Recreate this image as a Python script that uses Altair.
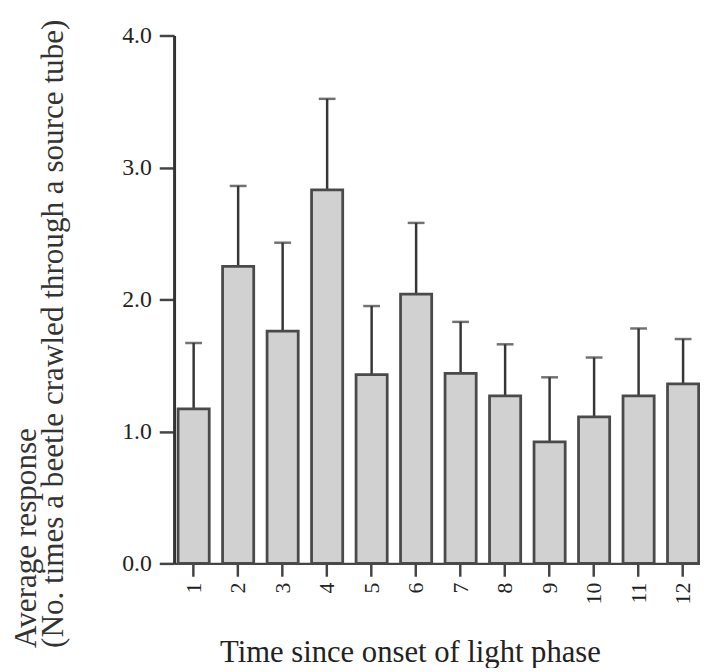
import altair as alt
import pandas as pd

hours = [str(i) for i in range(1, 13)]
means = [1.17, 2.25, 1.76, 2.83, 1.43, 2.04, 1.44, 1.27, 0.92, 1.11, 1.27, 1.36]
uppers = [1.67, 2.86, 2.43, 3.52, 1.95, 2.58, 1.83, 1.66, 1.41, 1.56, 1.78, 1.70]
y_ticks = [0, 1, 2, 3, 4]

df = pd.DataFrame({"hour": hours, "mean": means, "upper": uppers})

FONT = "Liberation Serif"
y_title = ["Average response", "(No. times a beetle crawled through a source tube)"]

x_enc = alt.X(
    "hour:N",
    sort=hours,
    scale=alt.Scale(paddingInner=0.3, paddingOuter=0.06, align=0.75),
    axis=alt.Axis(
        labelAngle=270,
        labelFont=FONT,
        labelFontSize=22,
        labelColor="#222222",
        labelPadding=6,
        tickSize=13,
        tickWidth=2.5,
        tickColor="#444444",
        domainColor="#444444",
        domainWidth=2.5,
        titleFont=FONT,
        titleFontSize=31,
        titleFontWeight="normal",
        titleColor="#222222",
        titleAlign="left",
        titleBaseline="alphabetic",
        titleX=46,
        titleY=99,
    ),
    title="Time since onset of light phase",
)

y_axis = alt.Axis(
    values=y_ticks,
    format=".1f",
    grid=False,
    labelFont=FONT,
    labelFontSize=24,
    labelColor="#222222",
    labelPadding=8,
    tickSize=15,
    tickWidth=2.5,
    tickColor="#444444",
    domainColor="#333333",
    domainWidth=3,
    titleFont=FONT,
    titleFontSize=31.5,
    titleFontWeight="normal",
    titleColor="#333333",
    titleAngle=270,
    titleAlign="left",
    titleBaseline="alphabetic",
    titleLineHeight=27,
    titleX=-140,
    titleY=619,
)
y_scale = alt.Scale(domain=[0, 4], nice=False)

bars = alt.Chart(df).mark_bar(
    fill="#d1d1d1", stroke="#4a4a4a", strokeWidth=2.8
).encode(
    x=x_enc,
    y=alt.Y("mean:Q", scale=y_scale, axis=y_axis, title=y_title),
)

err = alt.Chart(df).mark_rule(color="#363636", strokeWidth=2.5).encode(
    x=x_enc,
    y=alt.Y("mean:Q", scale=y_scale, axis=y_axis, title=y_title),
    y2="upper:Q",
)

caps = alt.Chart(df).mark_tick(color="#363636", size=17, thickness=2.5).encode(
    x=x_enc,
    y=alt.Y("upper:Q", scale=y_scale, axis=y_axis, title=y_title),
)

chart = (
    alt.layer(err, bars, caps)
    .properties(
        width=532,
        height=534,
        padding={"left": 168, "top": 24, "right": 0, "bottom": 102},
        autosize=alt.AutoSizeParams(type="none"),
        background="white",
    )
    .configure_view(stroke=None)
    .configure_axis(labelFont=FONT, titleFont=FONT)
)

chart.save("out.html", embed_options={"renderer": "svg", "actions": False})
